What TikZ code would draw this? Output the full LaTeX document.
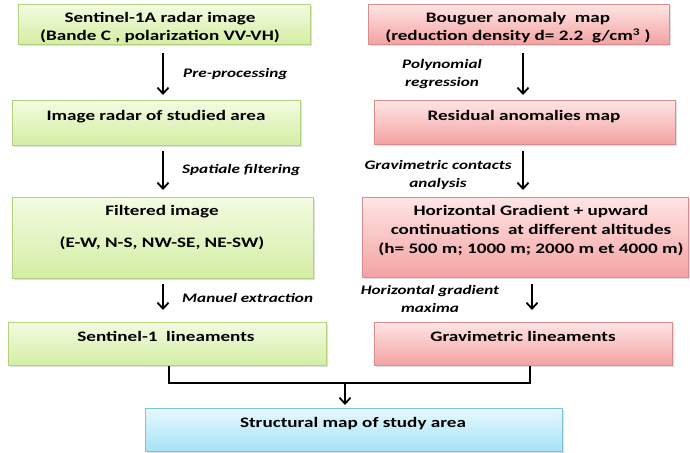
\documentclass[tikz,border=0pt]{standalone}
\usepackage{fontspec}
\usepackage{graphicx}
\setmainfont{Carlito}
\usetikzlibrary{arrows.meta,shadows}
\definecolor{gtop}{HTML}{F3FBE1}
\definecolor{gbot}{HTML}{D4EEA3}
\definecolor{gbrd}{HTML}{B2D27E}
\definecolor{rtop}{HTML}{FFE5E5}
\definecolor{rbot}{HTML}{F3A2A2}
\definecolor{rbrd}{HTML}{D98C8C}
\definecolor{btop}{HTML}{E6F8FF}
\definecolor{bbot}{HTML}{A6E2F6}
\definecolor{bbrd}{HTML}{7EC4DD}
\newcommand\sx[1]{\scalebox{1.32}[1]{\begin{tabular}{@{}c@{}}#1\end{tabular}}}
\begin{document}
\begin{tikzpicture}[x=1pt,y=-1pt,
 box/.style={line width=0.8pt, inner sep=0pt, anchor=north west,
   drop shadow={opacity=0.25,shadow xshift=1.3pt,shadow yshift=-1.3pt}},
 gbox/.style={box, draw=gbrd, top color=gtop, bottom color=gbot},
 rbox/.style={box, draw=rbrd, top color=rtop, bottom color=rbot},
 bbox/.style={box, draw=bbrd, top color=btop, bottom color=bbot},
 txt/.style={font=\bfseries\fontsize{14.5}{18}\selectfont, anchor=north, inner sep=0pt},
 lab/.style={font=\bfseries\itshape\fontsize{13}{18}\selectfont, inner sep=0pt},
 lw/.style={line width=1.8pt},
 arr/.style={lw, -{Straight Barb[length=6pt,width=11pt,line width=1.8pt]}}]
\useasboundingbox (0,0) rectangle (690,452);
% left column
\node[gbox, minimum width=292pt, minimum height=40pt] (g1) at (18,4) {};
\node[gbox, minimum width=288pt, minimum height=45pt] (g2) at (12,100) {};
\node[gbox, minimum width=301pt, minimum height=81pt] (g3) at (12,197) {};
\node[gbox, minimum width=318pt, minimum height=43pt] (g4) at (8,322) {};
% right column
\node[rbox, minimum width=301pt, minimum height=40pt] (r1) at (368,4) {};
\node[rbox, minimum width=301pt, minimum height=44pt] (r2) at (374,100) {};
\node[rbox, minimum width=326pt, minimum height=80pt] (r3) at (362,197) {};
\node[rbox, minimum width=298pt, minimum height=43pt] (r4) at (374,322) {};
% bottom
\node[bbox, minimum width=417pt, minimum height=43pt] (b) at (145,408) {};
% texts
\node[txt] (g1t) at (160,10) {\sx{Sentinel-1A radar image\\(Bande C , polarization VV-VH)}};
\node[txt] (g2t) at (156,108) {\sx{Image radar of studied area}};
\node[txt] (g3t) at (162,203) {\sx{Filtered image\\[14pt](E-W, N-S, NW-SE, NE-SW)}};
\node[txt] (g4t) at (166,329) {\sx{Sentinel-1\ \ lineaments}};
\node[txt] (r1t) at (518,10) {\sx{Bouguer anomaly\ \ map\\(reduction density d= 2.2\ \ g/cm\textsuperscript{3} )}};
\node[txt] (r2t) at (524,108) {\sx{Residual anomalies map}};
\node[txt] (r3t) at (531,203) {\sx{Horizontal Gradient + upward\\[1pt]continuations\ \ at different altitudes\\[1pt](h= 500 m; 1000 m; 2000 m et 4000 m)}};
\node[txt] (r4t) at (523,329) {\sx{Gravimetric lineaments}};
\node[txt] (bt) at (353,415) {\sx{Structural map of study area}};
% labels
\node[lab, anchor=west] (l1) at (183,74) {\sx{Pre-processing}};
\node[lab, anchor=west] (l2) at (182,170) {\sx{Spatiale filtering}};
\node[lab, anchor=west] (l3) at (182,299) {\sx{Manuel extraction}};
\node[lab] (l4) at (442,74) {\sx{Polynomial\\regression}};
\node[lab] (l5) at (438,175) {\sx{Gravimetric contacts\\analysis}};
\node[lab] (l6) at (430,300) {\sx{Horizontal gradient\\maxima}};
% arrow columns
\coordinate (cl) at (163,0);
\coordinate (cr) at (523,0);
\coordinate (cr3) at (532,0);
\draw[arr, shorten <=8pt, shorten >=5pt] (g1.south -| cl) -- (g2.north -| cl);
\draw[arr, shorten <=5pt, shorten >=7pt] (g2.south -| cl) -- (g3.north -| cl);
\draw[arr, shorten <=5pt, shorten >=12pt] (g3.south -| cl) -- (g4.north -| cl);
\draw[arr, shorten <=8pt, shorten >=5pt] (r1.south -| cr) -- (r2.north -| cr);
\draw[arr, shorten <=6pt, shorten >=7pt] (r2.south -| cr) -- (r3.north -| cr);
\draw[arr, shorten <=6pt, shorten >=12pt] (r3.south -| cr3) -- (r4.north -| cr3);
% merge
\coordinate (ml) at (169,0);
\coordinate (mr) at (530,0);
\coordinate (m) at (345,383);
\draw[lw] (g4.south -| ml) |- (m);
\draw[lw] (r4.south -| mr) |- (m);
\draw[arr, shorten >=3pt] (m) -- (b.north -| m);
\end{tikzpicture}
\end{document}
